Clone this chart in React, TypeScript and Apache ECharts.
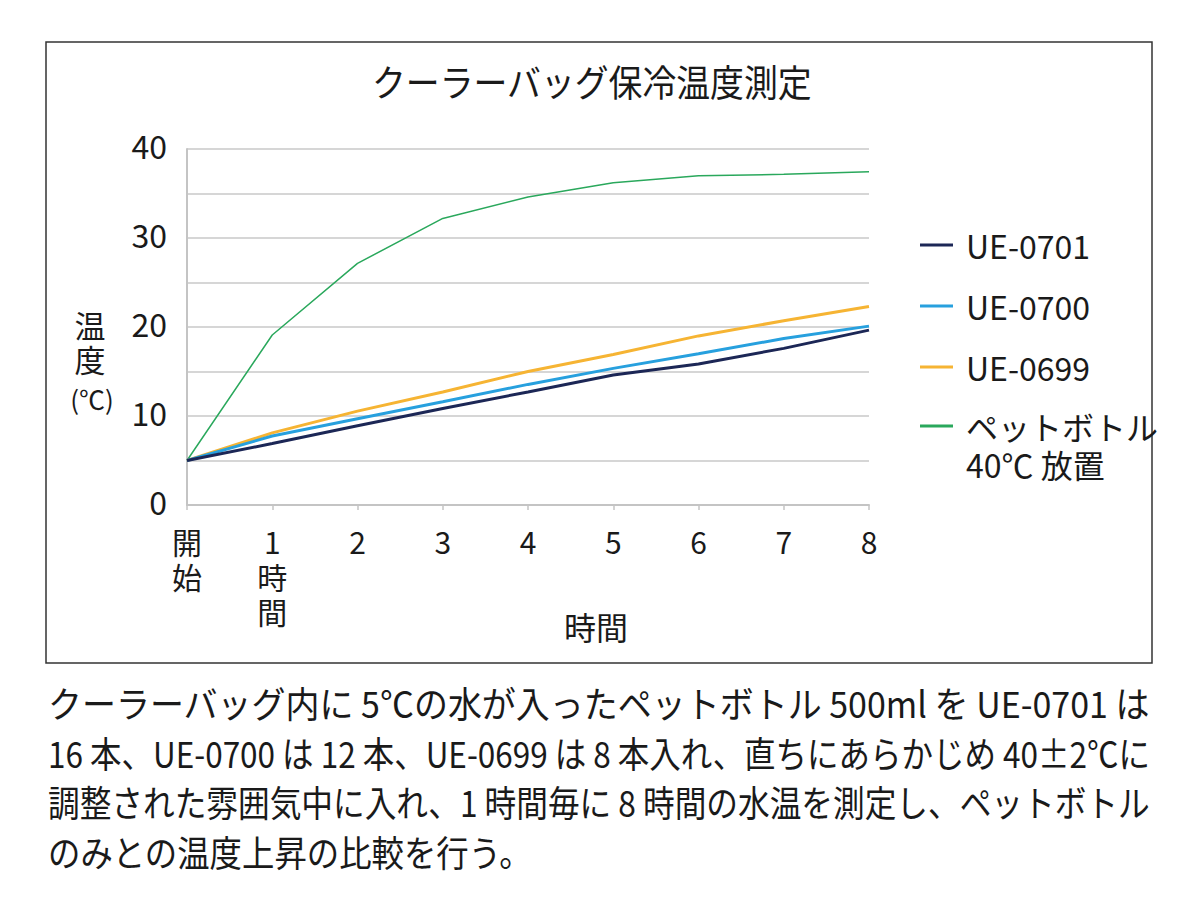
import React, { useEffect, useRef } from "react";
import * as echarts from "echarts";

const hours = ["開\n始", "1\n時\n間", "2", "3", "4", "5", "6", "7", "8"];
const seriesNames = ["UE-0701", "UE-0700", "UE-0699", "ペットボトル\n40℃ 放置"];
const ue0701 = [5, 6.9, 8.9, 10.85, 12.7, 14.6, 15.85, 17.6, 19.65];
const ue0700 = [5, 7.75, 9.7, 11.6, 13.55, 15.35, 17.0, 18.7, 20.1];
const ue0699 = [5, 8.1, 10.55, 12.7, 15.0, 16.9, 19.0, 20.7, 22.3];
const petBottle = [5, 19.1, 27.15, 32.2, 34.6, 36.2, 37.0, 37.15, 37.45];
const seriesColors = ["#1c2756", "#27a0de", "#f6b433", "#2aa85c"];
const seriesWidths = [3, 3, 3, 1.5];
const yTickLabels = [0, 10, 20, 30, 40];

const titleText = "クーラーバッグ保冷温度測定";
const xAxisName = "時間";
const yAxisName = ["温\n度", "(℃)"];
const noteLines = [
  "クーラーバッグ内に 5℃の水が入ったペットボトル 500ml を UE-0701 は",
  "16 本、UE-0700 は 12 本、UE-0699 は 8 本入れ、直ちにあらかじめ 40±2℃に",
  "調整された雰囲気中に入れ、1 時間毎に 8 時間の水温を測定し、ペットボトル",
  "のみとの温度上昇の比較を行う。",
];

const FONT = "'Noto Sans CJK JP', 'Noto Sans', sans-serif";
const TEXT = "#1a1a1a";

function measure(text: string, size: number): number {
  const ctx = document.createElement("canvas").getContext("2d");
  if (!ctx) return text.length * size;
  ctx.font = `${size}px 'Noto Sans CJK JP'`;
  return ctx.measureText(text).width;
}

export default function App() {
  const ref = useRef<HTMLDivElement>(null);

  useEffect(() => {
    if (!ref.current) return;
    const chart = echarts.init(ref.current, null, { renderer: "svg" });

    const data = [ue0701, ue0700, ue0699, petBottle];

    const noteSize = 36;
    const targetW = [1102, 1102, 1102];
    const scales = noteLines.map((l, i) =>
      i < targetW.length ? targetW[i] / measure(l, noteSize) : 0
    );
    const avg = (scales[0] + scales[1] + scales[2]) / 3;
    const noteY = [702, 753, 802, 851];
    const noteGraphics = noteLines.map((l, i) => ({
      type: "text",
      x: 48,
      y: noteY[i],
      scaleX: i < 3 ? scales[i] : avg,
      silent: true,
      style: {
        text: l,
        fontSize: noteSize,
        fontFamily: FONT,
        fill: TEXT,
        align: "left",
        verticalAlign: "middle",
      },
    }));

    const titleSize = 37;
    const titleW = 440;
    const titleScale = titleW / measure(titleText, titleSize);

    const legendText = {
      fontSize: 32,
      lineHeight: 34,
      fontFamily: FONT,
      color: TEXT,
      padding: [0, 0, 0, 8],
    };

    const option: any = {
      animation: false,
      backgroundColor: "#ffffff",
      grid: { left: 187, right: 331, top: 149, bottom: 395, containLabel: false },
      xAxis: {
        type: "category",
        data: hours,
        boundaryGap: false,
        axisLine: { lineStyle: { color: "#c4c4c4", width: 2 } },
        axisTick: { show: true, length: 5, lineStyle: { color: "#c4c4c4", width: 1.5 } },
        axisLabel: {
          fontSize: 30,
          lineHeight: 35,
          margin: 18,
          color: TEXT,
          fontFamily: FONT,
          interval: 0,
        },
        splitLine: { show: false },
      },
      yAxis: {
        type: "value",
        min: 0,
        max: 40,
        interval: 5,
        axisLine: { show: true, lineStyle: { color: "#c4c4c4", width: 2 } },
        axisTick: { show: false },
        axisLabel: {
          margin: 20,
          formatter: (v: number) => (yTickLabels.indexOf(v) >= 0 ? `{n|${v}}` : ""),
          rich: {
            n: {
              fontSize: 32,
              color: TEXT,
              fontFamily: FONT,
              padding: [0, 0, 8, 0],
            },
          },
        },
        splitLine: { lineStyle: { color: "#c8c8c8", width: 1.5 } },
      },
      legend: [
        {
          orient: "vertical",
          left: 920,
          top: 228,
          padding: 0,
          itemGap: 27,
          itemWidth: 33,
          itemHeight: 3,
          icon: "rect",
          selectedMode: false,
          data: seriesNames.slice(0, 3),
          textStyle: legendText,
        },
        {
          orient: "vertical",
          left: 920,
          top: 372,
          padding: 0,
          itemWidth: 33,
          itemHeight: 3,
          icon: "rect",
          selectedMode: false,
          data: seriesNames.slice(3),
          formatter: (name: string) =>
            "{s| }\n" + name.split("\n").map((p) => `{t|${p}}`).join("\n"),
          textStyle: {
            fontSize: 32,
            fontFamily: FONT,
            color: TEXT,
            padding: [0, 0, 0, 8],
            rich: {
              s: { fontSize: 32, lineHeight: 38, fontFamily: FONT, color: TEXT },
              t: { fontSize: 32, lineHeight: 38, fontFamily: FONT, color: TEXT },
            },
          },
        },
      ],
      series: seriesNames.map((name, i) => ({
        name,
        type: "line",
        data: data[i],
        symbol: "none",
        color: seriesColors[i],
        lineStyle: { color: seriesColors[i], width: seriesWidths[i] },
        z: i === 3 ? 1 : 2 + (3 - i),
      })),
      graphic: [
        {
          type: "rect",
          shape: { x: 46, y: 42, width: 1106, height: 621 },
          style: { fill: "none", stroke: "#333333", lineWidth: 1.5 },
          silent: true,
        },
        {
          type: "text",
          x: 592 - titleW / 2,
          y: 81,
          scaleX: titleScale,
          style: {
            text: titleText,
            fontSize: titleSize,
            fontFamily: FONT,
            fill: TEXT,
            align: "left",
            verticalAlign: "middle",
          },
        },
        {
          type: "text",
          x: 596,
          y: 626,
          style: {
            text: xAxisName,
            fontSize: 32,
            fontFamily: FONT,
            fill: TEXT,
            align: "center",
            verticalAlign: "middle",
          },
        },
        {
          type: "text",
          x: 90,
          y: 341,
          style: {
            text: yAxisName[0],
            fontSize: 31,
            lineHeight: 34,
            fontFamily: FONT,
            fill: TEXT,
            align: "center",
            verticalAlign: "middle",
          },
        },
        {
          type: "text",
          x: 92,
          y: 398,
          style: {
            text: yAxisName[1],
            fontSize: 26,
            fontFamily: FONT,
            fill: TEXT,
            align: "center",
            verticalAlign: "middle",
          },
        },
        ...noteGraphics,
      ],
    };

    chart.setOption(option);
    return () => chart.dispose();
  }, []);

  return (
    <div
      ref={ref}
      style={{ position: "absolute", left: 0, top: 0, width: 1200, height: 900 }}
    />
  );
}
